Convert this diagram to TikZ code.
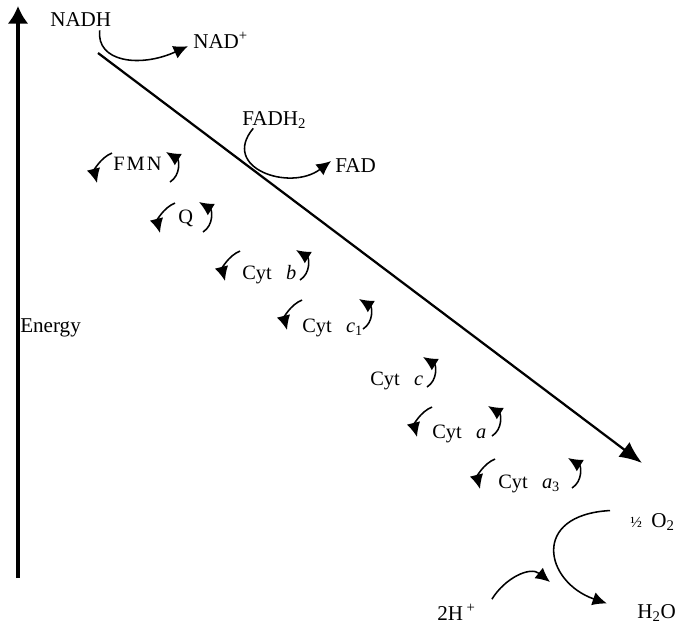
\documentclass[tikz,border=0pt]{standalone}
\usepackage{fontspec}
\setmainfont{Liberation Serif}
\usetikzlibrary{arrows.meta}

\begin{document}
\begin{tikzpicture}[
  x=0.025cm, y=-0.025cm,
  >=Latex,
  font=\fontsize{15}{18}\selectfont,
  lbl/.style={inner sep=0pt, anchor=base west},
  carrier/.style={inner sep=0pt, anchor=base west, font=\fontsize{14.5}{17}\selectfont},
  axisarrow/.style={-{Latex[length=4.4mm, width=5.2mm]}, line width=2.2pt},
  chain/.style={-{Latex[length=5.6mm, width=4.6mm]}, line width=1.6pt},
  turn/.style={-{Latex[length=3.6mm, width=3.4mm]}, line width=1.1pt}
]
\useasboundingbox (0,0) rectangle (683,626);

% energy axis
\coordinate (ebase) at (18,578);
\coordinate (etop) at (18,6);
\draw[axisarrow] (ebase) -- (etop);
\node[lbl] (energy) at (20,332) {Energy};

% donors
\node[lbl] (nadh) at (50,26) {NADH};
\node[lbl] (nad) at (193,48) {NAD\textsuperscript{+}};
\node[lbl] (fadh) at (242,125) {FADH\textsubscript{2}};
\node[lbl] (fad) at (335,172) {FAD};

\draw[turn] ([shift={(19,4)}]nadh.south) .. controls (96,62) and (140,68) .. ([shift={(-5,6)}]nad.west);
\draw[turn] ([shift={(-21,0)}]fadh.south) .. controls (220,168) and (290,192) .. ([shift={(-4,-4)}]fad.west);

% downhill chain
\coordinate (chaintop) at (98,53);
\coordinate (chainbot) at (642,463);
\draw[chain] (chaintop) -- (chainbot);

\foreach \id/\tx/\ty/\txt/\ay/\lx/\rx in {
  fmn/113/170/{F\kern1.5pt M\kern1.5pt N}/167/112/170,
  q/178/223/Q/217/175/203,
  cytb/242/279/{Cyt\hspace{.7em}\textit{b}}/265/240/300,
  cytci/302/332/{Cyt\hspace{.7em}\textit{c}\textsubscript{1}}/314/302/363,
  cyta/432/438/{Cyt\hspace{.7em}\textit{a}}/421/432/492,
  cytaiii/498/488/{Cyt\hspace{.7em}\textit{a}\textsubscript{3}}/473/495/572
} {
  \node[carrier] (\id) at (\tx,\ty) {\txt};
  \coordinate (\id-lt) at (\lx,\ay-14);
  \coordinate (\id-lh) at (\lx-15,\ay+16);
  \coordinate (\id-rt) at (\rx,\ay+15);
  \coordinate (\id-rh) at (\rx-4,\ay-15);
  \draw[turn] (\id-lt) .. controls (\lx-12,\ay-9) and (\lx-18,\ay+4) .. (\id-lh);
  \draw[turn] (\id-rt) .. controls (\rx+11,\ay+8) and (\rx+9,\ay-7) .. (\id-rh);
}
\node[carrier] (cytc) at (370,385) {Cyt\hspace{.7em}\textit{c}};
\coordinate (cytc-rt) at (427,387);
\coordinate (cytc-rh) at (423,357);
\draw[turn] (cytc-rt) .. controls (438,380) and (436,365) .. (cytc-rh);

% oxygen
\node[lbl] (half) at (630,527) {{\fontsize{11}{13}\selectfont ½}\hspace{.45em}O\textsubscript{2}};
\node[lbl] (hplus) at (437,620) {2H\,\textsuperscript{+}};
\node[lbl] (water) at (637,618) {H\textsubscript{2}O};
\coordinate (meet) at (550,582);

\draw[turn] ([shift={(-20,-11)}]half.west) .. controls (530,515) and (545,582) .. ([shift={(-30,-9)}]water.west);
\draw[turn] ([shift={(16,-13)}]hplus.east) .. controls (505,578) and (530,566) .. (meet);
\end{tikzpicture}
\end{document}
